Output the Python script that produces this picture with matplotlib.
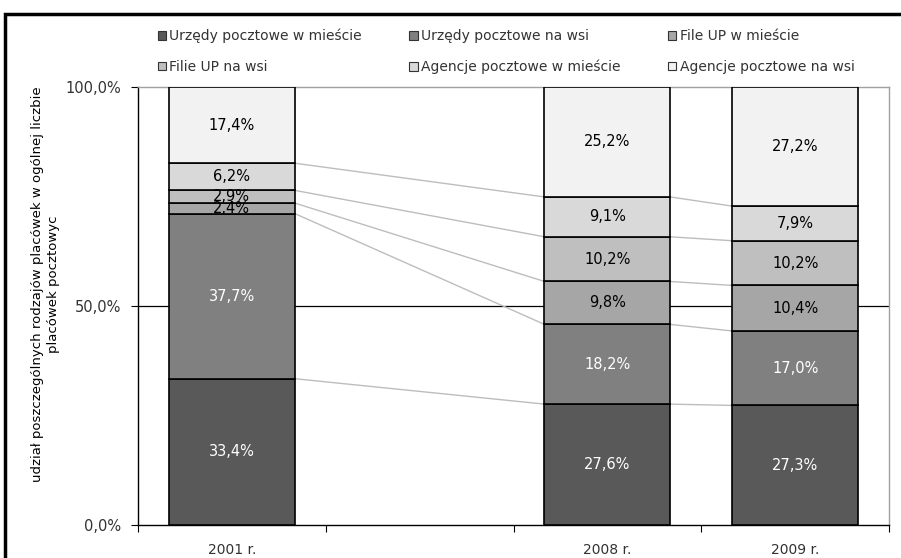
import matplotlib
matplotlib.use("Agg")
import matplotlib.pyplot as plt
from matplotlib.patches import Rectangle
import numpy as np

categories = ["2001 r.", "", "2008 r.", "2009 r."]
series_names = ["Urzędy pocztowe w mieście", "Urzędy pocztowe na wsi", "File UP w mieście",
                "Filie UP na wsi", "Agencje pocztowe w mieście", "Agencje pocztowe na wsi"]
# values in % per category (blank category has no data)
urzedy_miasto = [33.4, None, 27.6, 27.3]
urzedy_wies = [37.7, None, 18.2, 17.0]
filie_miasto = [2.4, None, 9.8, 10.4]
filie_wies = [2.9, None, 10.2, 10.2]
agencje_miasto = [6.2, None, 9.1, 7.9]
agencje_wies = [17.4, None, 25.2, 27.2]
series = [urzedy_miasto, urzedy_wies, filie_miasto, filie_wies, agencje_miasto, agencje_wies]
colors = ["#595959", "#808080", "#a6a6a6", "#bfbfbf", "#d9d9d9", "#f2f2f2"]
label_colors = ["white", "white", "black", "black", "black", "black"]

fig = plt.figure(figsize=(9.01, 5.58), dpi=100)
ax = fig.add_axes([138/901, 33/558, (889-138)/901, (525-87)/558])

x = np.arange(len(categories))
width = 0.67
data_idx = [i for i in range(len(categories)) if series[0][i] is not None]

bottoms = {i: 0.0 for i in data_idx}
tops = {i: [] for i in data_idx}
for s, vals in enumerate(series):
    for i in data_idx:
        v = vals[i] / 100.0
        ax.bar(x[i], v, width, bottom=bottoms[i], color=colors[s], edgecolor="black",
               linewidth=1.2, zorder=3)
        txt = f"{vals[i]:.1f}%".replace(".", ",")
        ax.text(x[i], bottoms[i] + v/2, txt, ha="center", va="center", fontsize=10.5,
                color=label_colors[s], zorder=5, family="DejaVu Sans")
        bottoms[i] += v
        tops[i].append(bottoms[i])

# series lines connecting bars
for a, b in zip(data_idx[:-1], data_idx[1:]):
    for k in range(len(series) - 1):
        ax.plot([x[a] + width/2, x[b] - width/2], [tops[a][k], tops[b][k]],
                color="#bdbdbd", linewidth=1.0, zorder=2)

ax.set_xlim(-0.5, len(categories) - 0.5)
ax.set_ylim(0, 1.0)
ax.set_yticks([0, 0.5, 1.0])
ax.set_yticklabels(["0,0%", "50,0%", "100,0%"])
ax.axhline(0.5, color="black", linewidth=0.9, zorder=1)

ax.set_xticks(np.arange(len(categories) + 1) - 0.5)
ax.set_xticklabels([])
ax.set_xticks(x, minor=True)
ax.set_xticklabels(categories, minor=True)
ax.tick_params(axis="x", which="minor", length=0, pad=13, labelsize=10, labelcolor="#333333")
ax.tick_params(axis="x", which="major", length=5, color="black")
ax.tick_params(axis="y", length=5, labelsize=10.5, labelcolor="#333333", pad=7)

for sp in ["top", "right"]:
    ax.spines[sp].set_color("#a0a0a0")
    ax.spines[sp].set_linewidth(1.0)
for sp in ["left", "bottom"]:
    ax.spines[sp].set_color("black")
    ax.spines[sp].set_linewidth(1.0)

ax.set_ylabel("udział poszczególnych rodzajów placówek w ogólnej liczbie\nplacówek pocztowyc",
              fontsize=9.5, color="black", linespacing=1.25)
ax.yaxis.set_label_coords(-(138-60)/751, (525-284)/438)

order = [0, 3, 1, 4, 2, 5]
handles = [Rectangle((0, 0), 1, 1, facecolor=colors[k], edgecolor="#333333", linewidth=0.8) for k in order]
labels = [series_names[k] for k in order]
leg = fig.legend(handles, labels, ncol=3, loc="lower left",
                 bbox_to_anchor=(152/901, (558-80)/558, (860-152)/901, 60/558),
                 mode="expand", frameon=False, fontsize=10, handlelength=0.6, handleheight=0.6,
                 handletextpad=0.25, labelspacing=1.2, borderaxespad=0)
for t in leg.get_texts():
    t.set_color("#333333")

# outer border
fig.patches.append(Rectangle((5/901, -0.05), 1.0, (558-14)/558 + 0.05, transform=fig.transFigure,
                             fill=False, edgecolor="black", linewidth=2.5))

fig.savefig("out.png", dpi=100)
